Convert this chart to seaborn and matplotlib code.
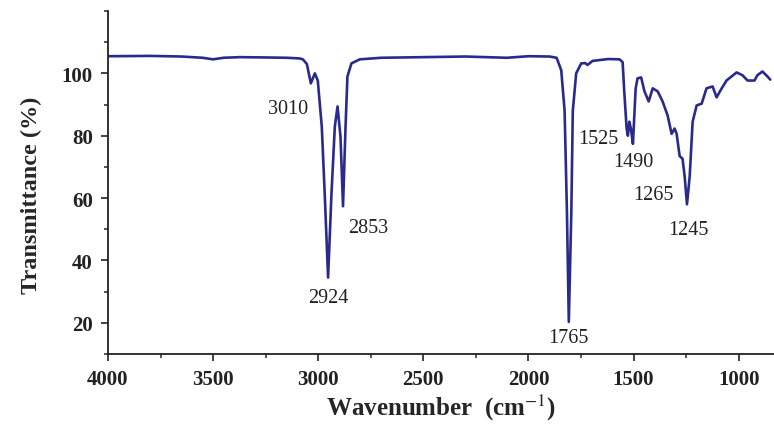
import matplotlib
matplotlib.use("Agg")
import matplotlib.pyplot as plt
from matplotlib.ticker import MultipleLocator, FixedLocator
import seaborn as sns
import pandas as pd

wavenumber = [4000, 3800, 3650, 3550, 3500, 3450, 3373, 3250, 3150, 3090, 3073, 3054,
              3035, 3016, 3002, 2983, 2969, 2953, 2937, 2921, 2908, 2894, 2882, 2870,
              2861, 2842, 2802, 2700, 2500, 2300, 2103, 2000, 1900, 1866, 1844, 1828,
              1817, 1808, 1796, 1789, 1773, 1749, 1730, 1719, 1695, 1620, 1567, 1552,
              1545, 1533, 1527, 1520, 1512, 1503, 1490, 1481, 1464, 1448, 1428, 1409,
              1385, 1362, 1338, 1319, 1305, 1295, 1281, 1267, 1257, 1246, 1233, 1219,
              1200, 1176, 1153, 1124, 1105, 1087, 1058, 1010, 982, 958, 925, 911, 887,
              863, 850]
transmittance = [105.5, 105.6, 105.4, 105.0, 104.5, 105.0, 105.2, 105.1, 105.0, 104.8, 104.5, 103.0,
                 96.8, 100.0, 97.7, 82.9, 61.3, 34.5, 61.3, 82.9, 89.4, 79.7, 57.4, 82.9,
                 99.0, 103.2, 104.5, 105.0, 105.2, 105.4, 105.0, 105.5, 105.4, 105.0, 101.0, 88.0,
                 55.8, 20.3, 55.8, 88.0, 100.0, 103.2, 103.3, 102.7, 104.0, 104.6, 104.5, 103.6,
                 95.0, 82.3, 80.0, 84.5, 82.0, 77.4, 95.2, 98.4, 98.7, 94.2, 91.0, 95.2,
                 94.2, 91.0, 86.5, 80.6, 82.3, 80.6, 73.5, 72.6, 67.0, 58.0, 67.0, 84.5,
                 89.7, 90.3, 95.2, 95.8, 92.3, 94.5, 97.7, 100.3, 99.4, 97.7, 97.7, 99.4, 100.6,
                 99.0, 98.0]

peak_labels = ["3010", "2924", "2853", "1765", "1525", "1490", "1265", "1245"]
peak_label_x = [3144, 2954, 2764, 1809, 1666, 1500, 1405, 1239]
peak_label_y = [88.7, 28.1, 50.6, 15.2, 79.0, 71.6, 61.3, 50.0]

x_ticks = [4000, 3500, 3000, 2500, 2000, 1500, 1000]
y_ticks = [20, 40, 60, 80, 100]

sns.set_theme(style="ticks")
plt.rcParams["font.family"] = ["Liberation Serif", "DejaVu Serif"]
plt.rcParams["mathtext.fontset"] = "stix"

fig = plt.figure(figsize=(7.74, 4.27), dpi=100)
ax = fig.add_axes([0.1395, 0.1686, 0.8605, 0.8033])

df = pd.DataFrame({"wavenumber": wavenumber, "transmittance": transmittance})
sns.lineplot(data=df, x="wavenumber", y="transmittance", ax=ax,
             color="#2a2a8c", linewidth=1.9, sort=False, estimator=None)

ax.set_xlim(4000, 832)
ax.set_ylim(10, 120)
ax.xaxis.set_major_locator(FixedLocator(x_ticks))
ax.xaxis.set_minor_locator(MultipleLocator(250))
ax.yaxis.set_major_locator(FixedLocator(y_ticks))
ax.yaxis.set_minor_locator(MultipleLocator(10))

ax.tick_params(axis="both", which="major", direction="out", length=5, width=1.2,
               labelsize=15, colors="#222222", pad=6)
ax.tick_params(axis="both", which="minor", direction="out", length=3, width=1.1)
for lab in ax.get_xticklabels() + ax.get_yticklabels():
    lab.set_fontweight("bold")

for s in ["top", "right"]:
    ax.spines[s].set_visible(False)
for s in ["left", "bottom"]:
    ax.spines[s].set_linewidth(1.3)
    ax.spines[s].set_color("#222222")

ax.set_xlabel("Wavenumber  (cm$^{-1}$)", fontsize=18, fontweight="bold", labelpad=2)
ax.set_ylabel("Transmittance (%)", fontsize=17.5, fontweight="bold")
ax.yaxis.set_label_coords(-0.099, 0.466)

for t, xv, yv in zip(peak_labels, peak_label_x, peak_label_y):
    ax.text(xv, yv, t, fontsize=14.5, ha="center", va="center", color="#222222")

fig.savefig("out.png", dpi=100)
